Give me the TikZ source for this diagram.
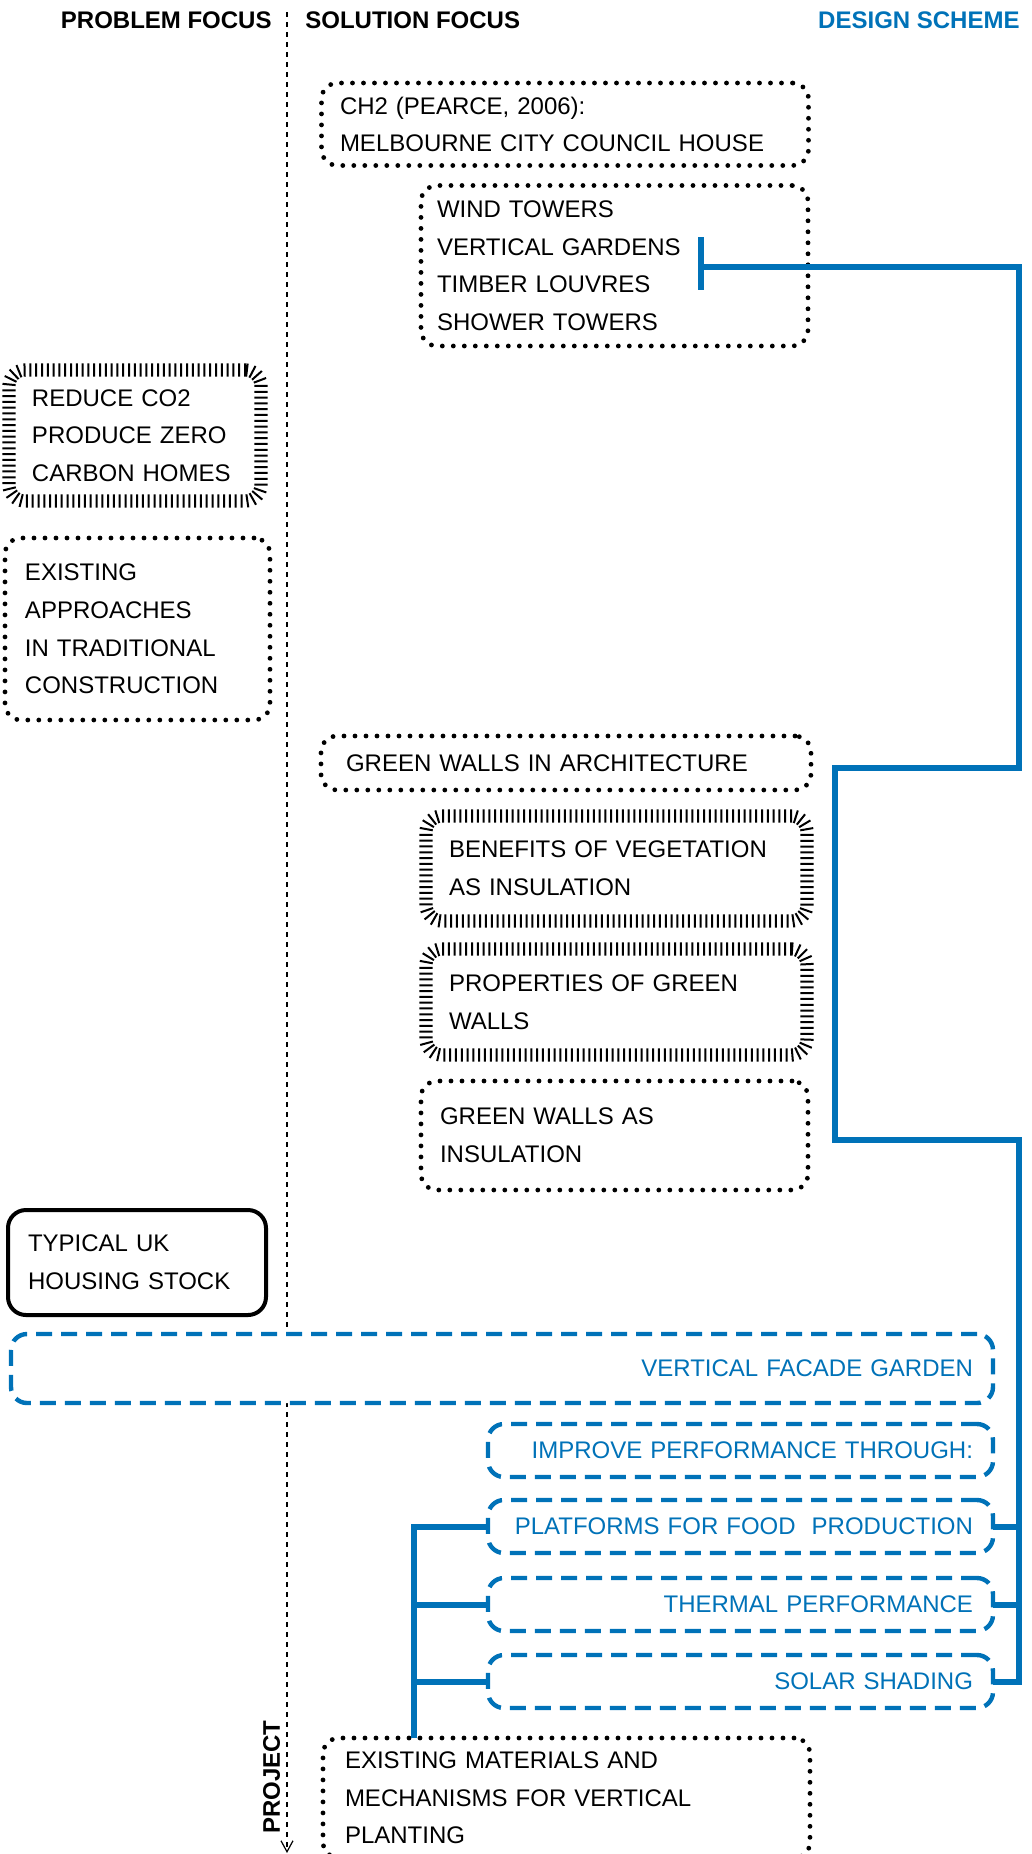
\documentclass[tikz,border=0pt]{standalone}
\usepackage{fontspec}
\setmainfont{Liberation Sans}
\usetikzlibrary{decorations.pathreplacing,arrows.meta}
\definecolor{schemeblue}{RGB}{0,114,184}

\tikzset{
  boxtext/.style={font=\fontsize{12}{18.8}\selectfont, align=left, anchor=north west,
    inner ysep=0pt, outer sep=0pt, rounded corners=8pt},
  dotbox/.style={boxtext, draw, line width=2.4pt, dash pattern=on 0pt off 5.5pt, line cap=round},
  tickbox/.style={boxtext, draw, line width=1pt, decorate,
    decoration={ticks, segment length=2.9pt, amplitude=3.3pt}},
  solidbox/.style={boxtext, draw, line width=2pt, rounded corners=9pt},
  bluebox/.style={boxtext, draw=schemeblue, text=schemeblue, fill=white, line width=2.2pt,
    dash pattern=on 8pt off 4.5pt, align=right, inner xsep=10pt},
  bluelink/.style={draw=schemeblue, line width=3pt},
  heading/.style={font=\fontsize{12}{14}\selectfont\bfseries, inner sep=0pt},
  divider/.style={line width=0.6pt, dash pattern=on 2.5pt off 2.5pt,
    -{Straight Barb[length=5.5pt,width=6pt]}}
}

\begin{document}
\begin{tikzpicture}[x=0.5pt, y=-0.5pt]
    \useasboundingbox (0,0) rectangle (1032,1854);
    \coordinate (divtop) at (287,12);
    \coordinate (divend) at (287,1853);
    \draw[divider] (divtop) -- (divend);

    \node[heading, anchor=base east] (problem) at (272,28) {PROBLEM FOCUS};
    \node[heading, anchor=base west] (solution) at (305,28) {SOLUTION FOCUS};
    \node[heading, anchor=base east, text=schemeblue] (design) at (1020,28) {DESIGN SCHEME};
    \node[heading, rotate=90] (project) at (271.5,1777) {PROJECT};

    \node[dotbox, inner xsep=9.25pt, text width=225pt, minimum height=41.25pt] (ch2) at (321.5,83)
      {CH2 (PEARCE, 2006):\\MELBOURNE CITY COUNCIL HOUSE};
    \node[dotbox, inner xsep=8pt, text width=177.5pt, minimum height=80.25pt] (wind) at (421,185.5)
      {WIND TOWERS\\VERTICAL GARDENS\\TIMBER LOUVRES\\SHOWER TOWERS};
    \node[tickbox, inner xsep=11.5pt, text width=103pt, minimum height=65.5pt] (co2) at (9,370)
      {REDUCE CO2\\PRODUCE ZERO\\CARBON HOMES};
    \node[dotbox, inner xsep=10pt, text width=112.5pt, minimum height=91pt] (existing) at (5,538)
      {EXISTING\\APPROACHES\\IN TRADITIONAL\\CONSTRUCTION};
    \node[dotbox, inner xsep=12.5pt, text width=220pt, minimum height=27pt] (gwa) at (321,736)
      {GREEN WALLS IN ARCHITECTURE};
    \node[tickbox, inner xsep=11.5pt, text width=167.5pt, minimum height=52.5pt] (benefits) at (426,816)
      {BENEFITS OF VEGETATION\\AS INSULATION};
    \node[tickbox, inner xsep=11.5pt, text width=167.5pt, minimum height=53pt] (props) at (426,949)
      {PROPERTIES OF GREEN\\WALLS};
    \node[dotbox, inner xsep=9.5pt, text width=174.5pt, minimum height=54.5pt] (gwins) at (421,1081)
      {GREEN WALLS AS\\INSULATION};
    \node[solidbox, inner xsep=10pt, text width=109pt, minimum height=52.5pt] (typical) at (8,1210)
      {TYPICAL UK\\HOUSING STOCK};

    \node[bluebox, text width=471pt, minimum height=34.5pt] (vfg) at (11,1334) {VERTICAL FACADE GARDEN};
    \node[bluebox, text width=232.5pt, minimum height=26.5pt] (improve) at (488,1424) {IMPROVE PERFORMANCE THROUGH:};
    \node[bluebox, text width=232.5pt, minimum height=26.5pt] (plat) at (488,1500) {PLATFORMS FOR FOOD\ \ PRODUCTION};
    \node[bluebox, text width=232.5pt, minimum height=26.5pt] (therm) at (488,1578) {THERMAL PERFORMANCE};
    \node[bluebox, text width=232.5pt, minimum height=26.5pt] (solar) at (488,1655) {SOLAR SHADING};

    \node[dotbox, inner xsep=11pt, text width=221.5pt, minimum height=60pt] (em) at (323,1738)
      {EXISTING MATERIALS AND\\MECHANISMS FOR VERTICAL\\PLANTING};

    \coordinate (tbartop) at (701,237);
    \coordinate (tbarbot) at (701,290);
    \coordinate (tbarmid) at (701,267);
    \coordinate (gwtop) at (834.5,768);
    \coordinate (gwbot) at (834.5,1139.5);
    \coordinate (spine) at (1019,0);
    \coordinate (lspine) at (414,0);
    \draw[bluelink] (tbartop) -- (tbarbot);
    \draw[bluelink] (tbarmid) -| (gwtop -| spine) -- (gwtop) -- (gwbot) -| (solar.east -| spine) -- (solar.east);
    \draw[bluelink] (plat.east) -- (plat.east -| spine);
    \draw[bluelink] (therm.east) -- (therm.east -| spine);
    \draw[bluelink] (plat.west) -- (plat.west -| lspine) -- (lspine |- em.north);
    \draw[bluelink] (therm.west) -- (therm.west -| lspine);
    \draw[bluelink] (solar.west) -- (solar.west -| lspine);
  \end{tikzpicture}
\end{document}
